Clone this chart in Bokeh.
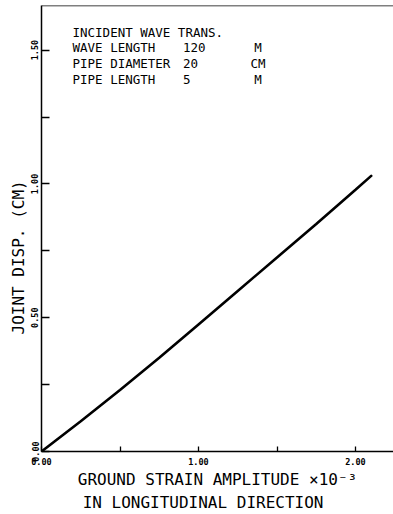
import math
from bokeh.plotting import figure
from bokeh.models import FixedTicker, NumeralTickFormatter, Span, Label, ColumnDataSource, LinearAxis
from bokeh.core.properties import value
from bokeh.embed import file_html
from bokeh.resources import INLINE

# ---- data -------------------------------------------------------------
strain = [0.0, 0.25, 0.5, 0.75, 1.0, 1.25, 1.5, 1.75, 2.0, 2.1]
joint_disp = [0.0, 0.113, 0.23, 0.35, 0.475, 0.6, 0.725, 0.85, 0.978, 1.03]

x_ticks = [0.0, 1.0, 2.0]
x_minor = [0.5, 1.5]
y_ticks = [0.0, 0.5, 1.0, 1.5]
y_minor = [0.25, 0.75, 1.25]

note_title = "INCIDENT WAVE TRANS."
note_names = ["WAVE LENGTH", "PIPE DIAMETER", "PIPE LENGTH"]
note_values = ["120", "20", "5"]
note_units = ["M", "CM", "M"]

x_label_1 = "GROUND STRAIN AMPLITUDE \u00d710\u207b\u00b3"
x_label_2 = "IN LONGITUDINAL DIRECTION"
y_label = "JOINT DISP. (CM)"

# ---- layout helpers (pixel -> data) ----------------------------------
X0, KX = 41, 157.0
Y0, KY = 455, 270.0
W, H = 393, 514
x_end = (W - X0) / KX
y_end = (Y0 - 5) / KY
NB = "\u00a0"


def px2x(px):
    return (px - X0) / KX


def px2y(py):
    return (Y0 - py) / KY


MONO = "DejaVu Sans Mono"

p = figure(width=W, height=H, x_range=(0, x_end), y_range=(0, y_end),
           output_backend="svg", toolbar_location=None,
           min_border_left=X0, min_border_right=0, min_border_top=5,
           min_border_bottom=H - Y0)
p.outline_line_color = None
p.xgrid.visible = False
p.ygrid.visible = False
p.background_fill_color = "white"
p.border_fill_color = "white"

# curve
src = ColumnDataSource(dict(x=strain, y=joint_disp))
p.line("x", "y", source=src, line_color="black", line_width=2.6, line_cap="round")

# axes
for ax in (p.xaxis[0], p.yaxis[0]):
    ax.axis_line_color = "black"
    ax.axis_line_width = 1.5
    ax.major_tick_line_color = "black"
    ax.minor_tick_line_color = "black"
    ax.major_tick_line_width = 1.3
    ax.minor_tick_line_width = 1.3
    ax.major_tick_out = 0
    ax.minor_tick_out = 0
    ax.formatter = NumeralTickFormatter(format="0.00")
    ax.major_label_text_font = MONO
    ax.major_label_text_font_style = "bold"
    ax.major_label_text_font_size = "8.5px"
    ax.major_label_text_color = "black"
    ax.axis_label_text_font = MONO
    ax.axis_label_text_font_style = "normal"
    ax.axis_label_text_font_size = "16px"
    ax.axis_label_text_color = "black"

p.xaxis.ticker = FixedTicker(ticks=x_ticks, minor_ticks=x_minor)
p.xaxis.major_tick_in = 5
p.xaxis.minor_tick_in = 5
p.xaxis.major_label_standoff = 6
p.xaxis.axis_label = x_label_1
p.xaxis.axis_label_standoff = 2

p.yaxis.ticker = FixedTicker(ticks=y_ticks, minor_ticks=y_minor)
p.yaxis.major_tick_in = 8
p.yaxis.minor_tick_in = 8
p.yaxis.major_label_orientation = "vertical"
p.yaxis.major_label_standoff = 3
p.yaxis.axis_label = y_label + NB * 6
p.yaxis.axis_label_standoff = 1

# second line of the x title
ax2 = LinearAxis(ticker=FixedTicker(ticks=[]), axis_label=x_label_2 + NB * 3,
                 axis_line_color=None, major_tick_in=0, major_tick_out=0,
                 minor_tick_in=0, minor_tick_out=0, major_label_standoff=0,
                 major_tick_line_color=None, minor_tick_line_color=None,
                 axis_label_standoff=1, axis_label_text_font=MONO,
                 axis_label_text_font_style="normal", axis_label_text_font_size="16px",
                 axis_label_text_color="black")
p.add_layout(ax2, "below")

# top frame line
p.add_layout(Span(location=y_end, dimension="width", line_color="black", line_width=1.5))

# note block
row_base = [47, 63.5, 80]
NOTE = dict(text_font=MONO, text_font_size="12.5px", text_baseline="alphabetic",
            text_color="black")
p.add_layout(Label(x=px2x(72), y=px2y(32), text=note_title, text_align="left", **NOTE))
for i in range(len(note_names)):
    yy = px2y(row_base[i])
    p.add_layout(Label(x=px2x(72), y=yy, text=note_names[i], text_align="left", **NOTE))
    p.add_layout(Label(x=px2x(182.5), y=yy, text=note_values[i], text_align="left", **NOTE))
    p.add_layout(Label(x=px2x(257.5), y=yy, text=note_units[i], text_align="center", **NOTE))

open("out.html", "w").write(file_html(p, INLINE))
